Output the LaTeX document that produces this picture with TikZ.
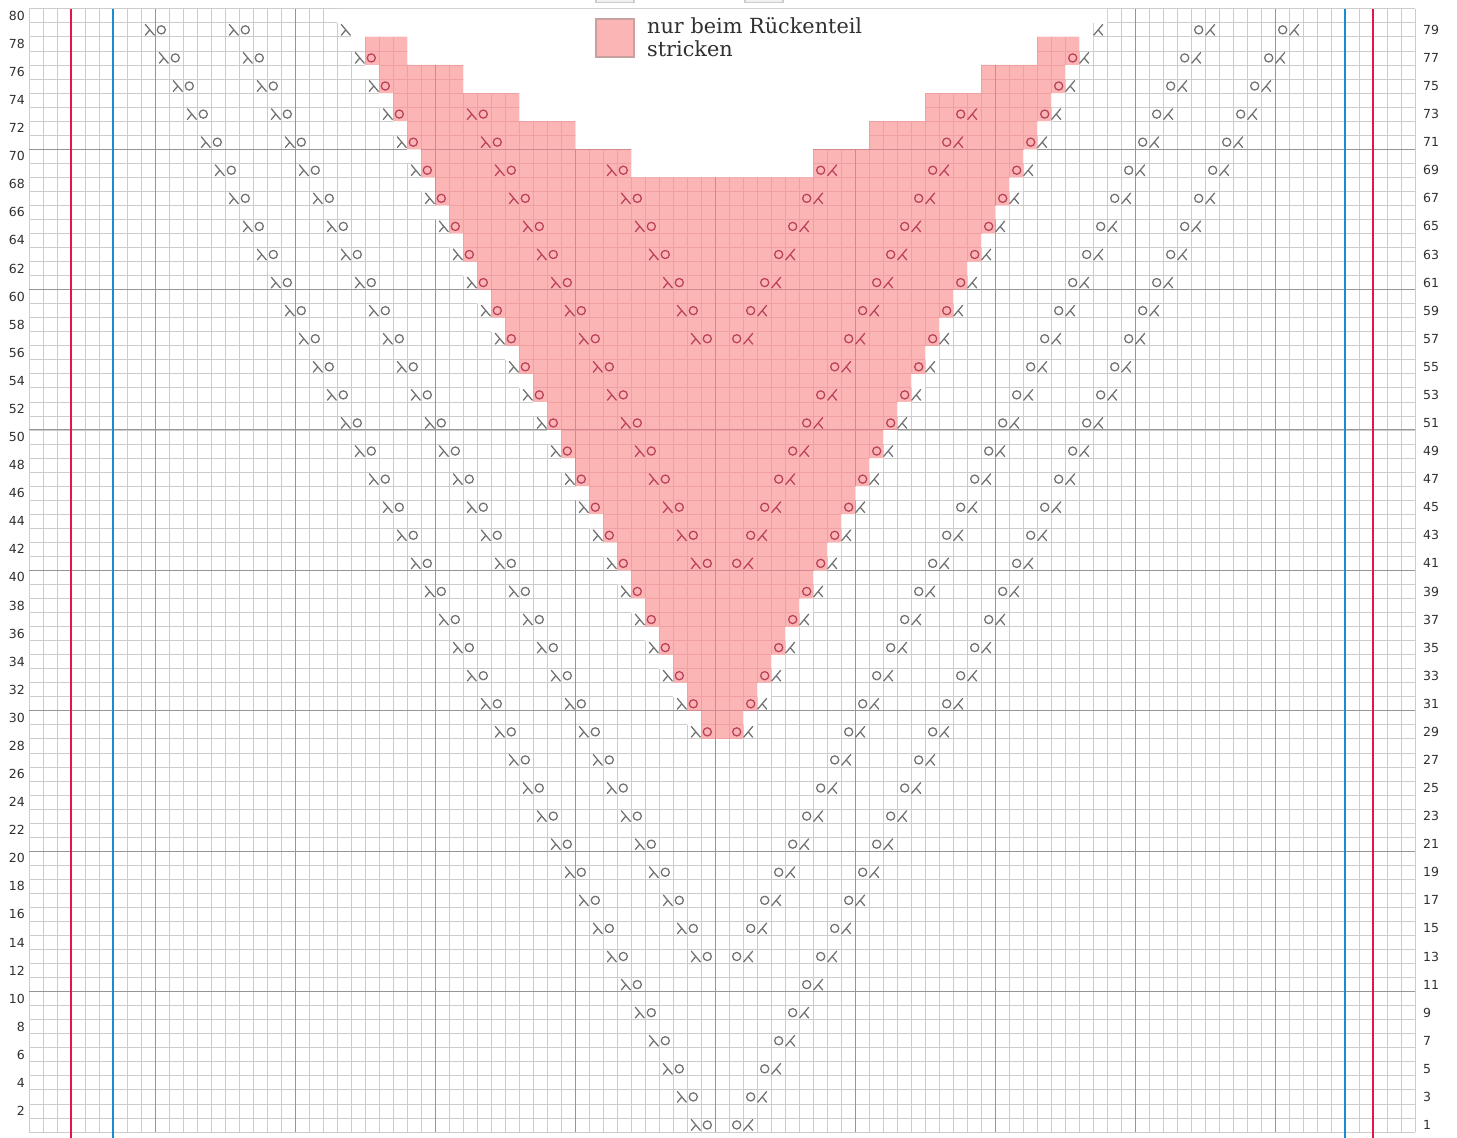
\documentclass[tikz,border=0pt]{standalone}
\usepackage{fontspec}
\setmainfont{DejaVu Serif}
\setsansfont{DejaVu Sans}
\usepackage{xcolor}
\usepackage{tikz}

\definecolor{gridline}{RGB}{204,204,204}
\definecolor{gridmajor}{RGB}{150,150,150}
\definecolor{backpink}{RGB}{251,181,181}
\definecolor{pinkgrid}{RGB}{238,160,162}
\definecolor{pinkmajor}{RGB}{210,136,142}
\definecolor{symgray}{RGB}{112,112,112}
\definecolor{sympink}{RGB}{186,64,90}
\definecolor{edgered}{RGB}{228,22,72}
\definecolor{edgeblue}{RGB}{22,142,212}
\definecolor{labelgray}{RGB}{48,48,48}
\definecolor{keyedge}{RGB}{200,160,160}

\tikzset{
  ldec/.pic={\draw[line width=1.25pt, line cap=round] (-0.24,0.38) -- (0.4,-0.38) (0.08,0) -- (-0.24,-0.38);},
  rdec/.pic={\draw[line width=1.25pt, line cap=round] (0.24,0.38) -- (-0.4,-0.38) (-0.08,0) -- (0.24,-0.38);},
  yo/.pic={\draw[line width=1.25pt] (0,0) circle[radius=0.29];},
  plain/.style={symgray},
  onback/.style={sympink}}

% outline of the part knitted only for the back
\newcommand{\backneckpath}{(48,28) \foreach \k in {15,...,39}{ -- ({63-\k},{2*\k-2}) -- ({63-\k},{2*\k}) }
  -- (27,78) -- (27,76) -- (31,76) -- (31,74) -- (35,74) -- (35,72) -- (39,72) -- (39,70) -- (43,70) -- (43,68)
  -- (56,68) -- (56,70) -- (60,70) -- (60,72) -- (64,72) -- (64,74) -- (68,74) -- (68,76) -- (72,76) -- (72,78)
  \foreach \k in {39,...,15}{ -- ({36+\k},{2*\k}) -- ({36+\k},{2*\k-2}) } -- cycle}

\begin{document}
\begin{tikzpicture}[x=1pt, y=1pt,
  rownum/.style={font=\sffamily\fontsize{12.5}{12.5}\selectfont, text=labelgray, inner sep=0pt},
  keybox/.style={draw=keyedge, line width=1.4pt, fill=backpink, minimum size=38pt, inner sep=0pt},
  keytext/.style={font=\fontsize{20.8}{23}\selectfont, text=labelgray, align=left, inner sep=0pt}]
\useasboundingbox (0,0) rectangle (1457,1138);

\begin{scope}[shift={(29,6)}, x=14pt, y=14.04pt]
  % chart grid
  \foreach \c in {0,...,99} \draw[gridline, line width=0.8pt] (\c,0) -- (\c,80);
  \foreach \r in {0,...,80} \draw[gridline, line width=0.8pt] (0,\r) -- (99,\r);
  \foreach \c in {9,19,...,89} \draw[gridmajor, line width=1pt] (\c,0) -- (\c,80);
  \foreach \r in {10,20,...,70} \draw[gridmajor, line width=1pt] (0,\r) -- (99,\r);

  % neckline: no stitches
  \fill[white] (48,28) -- (48,29) \foreach \k in {15,...,39}{ -- ({62-\k},{2*\k-1}) -- ({62-\k},{2*\k+1}) }
    -- (22,79) -- (22,80) -- (77,80) -- (77,79)
    \foreach \k in {39,...,15}{ -- ({37+\k},{2*\k+1}) -- ({37+\k},{2*\k-1}) } -- (51,29) -- (51,28) -- cycle;

  % back only
  \fill[backpink] \backneckpath;
  \begin{scope}
    \clip \backneckpath;
    \foreach \c in {24,...,75} \draw[pinkgrid, line width=0.8pt] (\c,28) -- (\c,78);
    \foreach \r in {28,...,78} \draw[pinkgrid, line width=0.8pt] (23,\r) -- (76,\r);
    \foreach \c in {29,39,49,59,69} \draw[pinkmajor, line width=1pt] (\c,28) -- (\c,78);
    \foreach \r in {30,40,...,70} \draw[pinkmajor, line width=1pt] (23,\r) -- (76,\r);
  \end{scope}

  % edge stitches
  \foreach \c in {3,96} \draw[edgered, line width=2.6pt] (\c,-0.43) -- (\c,80);
  \foreach \c in {6,94} \draw[edgeblue, line width=2.6pt] (\c,-0.43) -- (\c,80);

  % lace lines
  \foreach \s/\last in {1/39,13/33} {
    \foreach \n in {0,...,\last} {
      \pic[plain] at ({47.55-\n},{\s+2*\n-0.5}) {ldec};
      \pic[plain] at ({48.45-\n},{\s+2*\n-0.5}) {yo};
      \pic[plain] at ({50.55+\n},{\s+2*\n-0.5}) {yo};
      \pic[plain] at ({51.45+\n},{\s+2*\n-0.5}) {rdec};
    }
  }
  \foreach \n in {0,...,25} {
    \pic[plain] at ({47.55-\n},{29+2*\n-0.5}) {ldec};
    \pic[plain] at ({51.45+\n},{29+2*\n-0.5}) {rdec};
  }
  \foreach \n in {0,...,24} {
    \pic[onback] at ({48.45-\n},{29+2*\n-0.5}) {yo};
    \pic[onback] at ({50.55+\n},{29+2*\n-0.5}) {yo};
  }
  \foreach \s/\last in {41/16,57/6} {
    \foreach \n in {0,...,\last} {
      \pic[onback] at ({47.55-\n},{\s+2*\n-0.5}) {ldec};
      \pic[onback] at ({48.45-\n},{\s+2*\n-0.5}) {yo};
      \pic[onback] at ({50.55+\n},{\s+2*\n-0.5}) {yo};
      \pic[onback] at ({51.45+\n},{\s+2*\n-0.5}) {rdec};
    }
  }
\end{scope}

% row numbers
\foreach \r in {2,4,...,80} \node[rownum, anchor=east] (left\r) at (25,{6+(\r-0.5)*14.04}) {\r};
\foreach \r in {1,3,...,79} \node[rownum, anchor=west] (right\r) at (1423,{6+(\r-0.5)*14.04}) {\r};

% key
\begin{scope}
  \clip (0,0) rectangle (1457,1138);
  \draw[gray!40, line width=1.4pt, fill=gray!12] (596,1135.5) rectangle (634,1160);
  \draw[gray!40, line width=1.4pt, fill=gray!12] (745,1135.5) rectangle (783,1160);
\end{scope}
\node[keybox] (backkey) at (615,1100) {};
\node[keytext, anchor=north west] (backtext) at (647,1121) {nur beim Rückenteil\\stricken};
\end{tikzpicture}
\end{document}
